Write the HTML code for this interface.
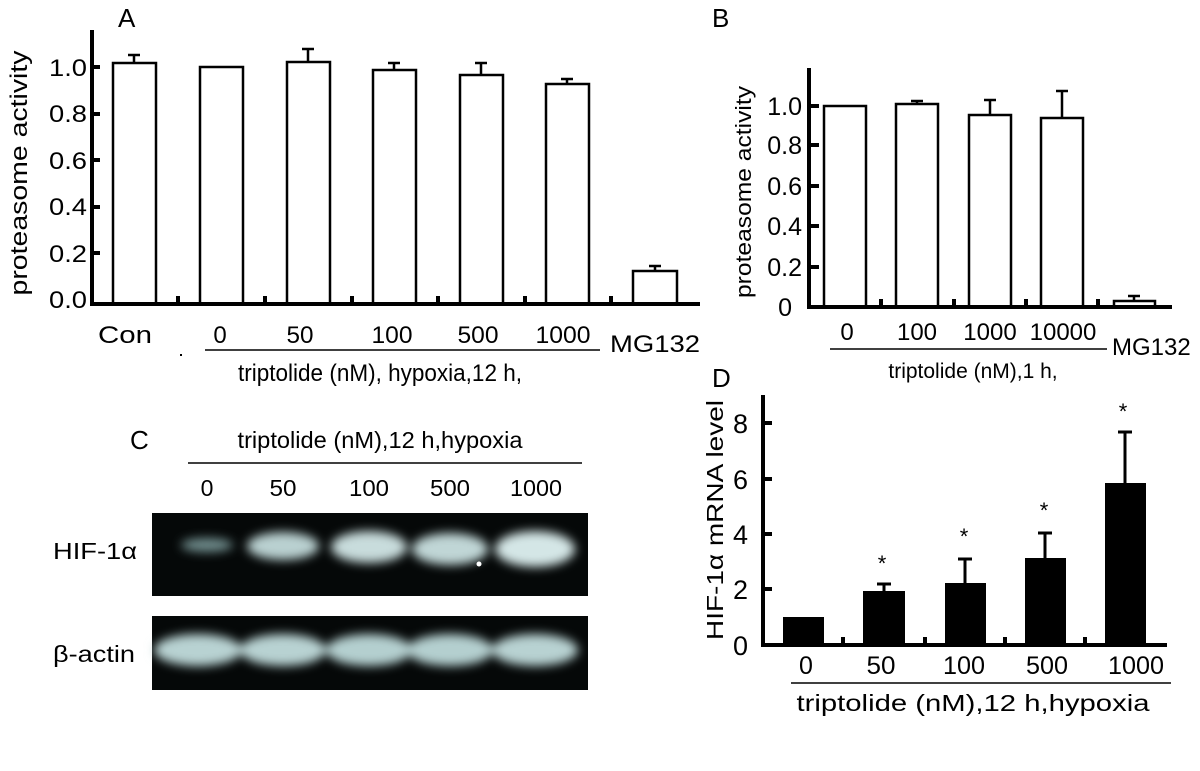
<!DOCTYPE html>
<html><head><meta charset="utf-8"><style>
html,body{margin:0;padding:0;background:#fff}
svg{display:block}
text{font-family:"Liberation Sans",sans-serif;fill:#000}
</style></head><body>
<svg width="1200" height="771" viewBox="0 0 1200 771" xmlns="http://www.w3.org/2000/svg">
<defs>
<filter id="bl" x="-30%" y="-60%" width="160%" height="220%"><feGaussianBlur stdDeviation="5"/></filter>
</defs>
<!-- Panel A -->
<text x="118" y="27" font-size="26">A</text>
<g stroke="#000" fill="none">
<line x1="92" y1="30" x2="92" y2="305" stroke-width="4"/>
<line x1="90" y1="304" x2="700" y2="304" stroke-width="4"/>
<g stroke-width="4">
<line x1="92" y1="67" x2="100" y2="67"/><line x1="92" y1="114" x2="100" y2="114"/>
<line x1="92" y1="160" x2="100" y2="160"/><line x1="92" y1="207" x2="100" y2="207"/>
<line x1="92" y1="253" x2="100" y2="253"/>
<line x1="178" y1="296" x2="178" y2="304"/><line x1="265" y1="296" x2="265" y2="304"/>
<line x1="352" y1="296" x2="352" y2="304"/><line x1="438" y1="296" x2="438" y2="304"/>
<line x1="525" y1="296" x2="525" y2="304"/><line x1="611" y1="296" x2="611" y2="304"/>
</g>
<g stroke-width="2.5">
<rect x="113" y="63" width="43" height="241"/>
<rect x="200" y="67" width="43" height="237"/>
<rect x="287" y="62" width="43" height="242"/>
<rect x="373" y="70" width="43" height="234"/>
<rect x="460" y="75" width="43" height="229"/>
<rect x="546" y="84" width="43" height="220"/>
<rect x="633" y="271" width="44" height="33"/>
<path d="M134 63V55M128 55H140M308 62V49M302 49H314M394 70V63M388 63H400M481 75V63M475 63H487M567 84V79M561 79H573M655 271V266M649 266H661"/>
</g>
</g>
<g font-size="24" text-anchor="end">
<text x="87" y="76" textLength="38" lengthAdjust="spacingAndGlyphs">1.0</text>
<text x="87" y="122" textLength="38" lengthAdjust="spacingAndGlyphs">0.8</text>
<text x="87" y="169" textLength="38" lengthAdjust="spacingAndGlyphs">0.6</text>
<text x="87" y="215" textLength="38" lengthAdjust="spacingAndGlyphs">0.4</text>
<text x="87" y="262" textLength="38" lengthAdjust="spacingAndGlyphs">0.2</text>
<text x="87" y="308" textLength="38" lengthAdjust="spacingAndGlyphs">0.0</text>
</g>
<text transform="translate(27,173) rotate(-90)" font-size="24" text-anchor="middle" textLength="245" lengthAdjust="spacingAndGlyphs">proteasome activity</text>
<g font-size="24" text-anchor="middle">
<text x="125" y="343" textLength="54" lengthAdjust="spacingAndGlyphs">Con</text>
<text x="220" y="343">0</text>
<text x="300" y="343" textLength="27" lengthAdjust="spacingAndGlyphs">50</text>
<text x="392" y="343" textLength="41" lengthAdjust="spacingAndGlyphs">100</text>
<text x="478" y="343" textLength="41" lengthAdjust="spacingAndGlyphs">500</text>
<text x="563" y="343" textLength="55" lengthAdjust="spacingAndGlyphs">1000</text>
<text x="380" y="381" textLength="284" lengthAdjust="spacingAndGlyphs">triptolide (nM), hypoxia,12 h,</text>
</g>
<text x="610" y="352" font-size="24" textLength="90" lengthAdjust="spacingAndGlyphs">MG132</text>
<line x1="205" y1="350" x2="600" y2="350" stroke="#000" stroke-width="1.5"/>
<rect x="180" y="354" width="2" height="2" fill="#000"/>

<!-- Panel B -->
<text x="712" y="27" font-size="26">B</text>
<g stroke="#000" fill="none">
<line x1="809" y1="68" x2="809" y2="309" stroke-width="4"/>
<line x1="807" y1="307" x2="1172" y2="307" stroke-width="4"/>
<g stroke-width="4">
<line x1="809" y1="106" x2="819" y2="106"/><line x1="809" y1="145" x2="819" y2="145"/>
<line x1="809" y1="186" x2="819" y2="186"/><line x1="809" y1="226" x2="819" y2="226"/>
<line x1="809" y1="267" x2="819" y2="267"/>
<line x1="881" y1="299" x2="881" y2="307"/><line x1="954" y1="299" x2="954" y2="307"/>
<line x1="1026" y1="299" x2="1026" y2="307"/><line x1="1098" y1="299" x2="1098" y2="307"/>
</g>
<g stroke-width="2.5">
<rect x="824" y="106" width="42" height="201"/>
<rect x="896" y="104" width="42" height="203"/>
<rect x="969" y="115" width="42" height="192"/>
<rect x="1041" y="118" width="42" height="189"/>
<rect x="1114" y="301" width="41" height="6"/>
<path d="M917 104V101M911 101H923M990 115V100M984 100H996M1062 118V91M1056 91H1068M1134 301V296M1128 296H1140"/>
</g>
</g>
<g font-size="25" text-anchor="end">
<text x="802" y="115">1.0</text><text x="802" y="154">0.8</text><text x="802" y="195">0.6</text>
<text x="802" y="235">0.4</text><text x="802" y="276">0.2</text><text x="792" y="316">0</text>
</g>
<text transform="translate(751,192) rotate(-90)" font-size="22" text-anchor="middle" textLength="212" lengthAdjust="spacingAndGlyphs">proteasome activity</text>
<g font-size="24" text-anchor="middle">
<text x="847" y="340">0</text><text x="917" y="340">100</text><text x="990" y="340">1000</text><text x="1063" y="340">10000</text>
<text x="973" y="378" font-size="21">triptolide (nM),1 h,</text>
</g>
<text x="1112" y="355" font-size="24">MG132</text>
<line x1="830" y1="349" x2="1107" y2="349" stroke="#000" stroke-width="1.5"/>

<!-- Panel C -->
<text x="130" y="449" font-size="26">C</text>
<text x="380" y="448" font-size="23" text-anchor="middle" textLength="285" lengthAdjust="spacingAndGlyphs">triptolide (nM),12 h,hypoxia</text>
<line x1="188" y1="463" x2="582" y2="463" stroke="#000" stroke-width="1.5"/>
<g font-size="23" text-anchor="middle">
<text x="207" y="496">0</text>
<text x="283" y="496" textLength="27" lengthAdjust="spacingAndGlyphs">50</text>
<text x="369" y="496" textLength="40" lengthAdjust="spacingAndGlyphs">100</text>
<text x="450" y="496" textLength="40" lengthAdjust="spacingAndGlyphs">500</text>
<text x="536" y="496" textLength="52" lengthAdjust="spacingAndGlyphs">1000</text>
</g>
<text x="53" y="559" font-size="23" textLength="84" lengthAdjust="spacingAndGlyphs">HIF-1α</text>
<text x="53" y="662" font-size="23" textLength="82" lengthAdjust="spacingAndGlyphs">β-actin</text>
<rect x="152" y="513" width="436" height="83" fill="#050808"/>
<rect x="152" y="616" width="436" height="74" fill="#050808"/>
<g filter="url(#bl)">
<ellipse cx="207" cy="545" rx="26" ry="7" fill="#6f8c8c"/>
<ellipse cx="283" cy="546" rx="36" ry="14" fill="#b9d0d0"/>
<ellipse cx="369" cy="547" rx="38" ry="16" fill="#c8dcdc"/>
<ellipse cx="450" cy="549" rx="38" ry="16" fill="#c0d6d6"/>
<ellipse cx="535" cy="549" rx="40" ry="18" fill="#d4e6e6"/>
<ellipse cx="198" cy="650" rx="44" ry="16" fill="#b8d2d2"/>
<ellipse cx="283" cy="650" rx="43" ry="16" fill="#b8d2d2"/>
<ellipse cx="369" cy="650" rx="43" ry="16" fill="#b4cfcf"/>
<ellipse cx="450" cy="650" rx="43" ry="16" fill="#b4cfcf"/>
<ellipse cx="535" cy="650" rx="43" ry="16" fill="#b8d2d2"/>
</g>
<circle cx="479" cy="564" r="2.5" fill="#fff"/>

<!-- Panel D -->
<text x="712" y="387" font-size="26">D</text>
<g stroke="#000" fill="none" stroke-width="4">
<line x1="763" y1="395" x2="763" y2="647"/>
<line x1="761" y1="645" x2="1167" y2="645"/>
<line x1="763" y1="423" x2="772" y2="423"/><line x1="763" y1="479" x2="772" y2="479"/>
<line x1="763" y1="534" x2="772" y2="534"/><line x1="763" y1="589" x2="772" y2="589"/>
<line x1="843" y1="637" x2="843" y2="645"/><line x1="925" y1="637" x2="925" y2="645"/>
<line x1="1005" y1="637" x2="1005" y2="645"/><line x1="1085" y1="637" x2="1085" y2="645"/>
</g>
<g fill="#000">
<rect x="783" y="617" width="41" height="28"/>
<rect x="863" y="591" width="42" height="54"/>
<rect x="945" y="583" width="41" height="62"/>
<rect x="1025" y="558" width="41" height="87"/>
<rect x="1105" y="483" width="41" height="162"/>
</g>
<path d="M884 591V584M877 584H891M965 583V559M958 559H972M1045 558V533M1038 533H1052M1125 483V432M1118 432H1132" stroke="#000" stroke-width="3" fill="none"/>
<g font-size="22" text-anchor="middle">
<text x="882" y="571">*</text><text x="964" y="544">*</text><text x="1044" y="518">*</text><text x="1123" y="419">*</text>
</g>
<g font-size="27" text-anchor="end">
<text x="748" y="433">8</text><text x="748" y="489">6</text><text x="748" y="544">4</text><text x="748" y="599">2</text><text x="748" y="655">0</text>
</g>
<text transform="translate(723,520) rotate(-90)" font-size="23" text-anchor="middle" textLength="240" lengthAdjust="spacingAndGlyphs">HIF-1α mRNA level</text>
<g font-size="25" text-anchor="middle">
<text x="806" y="674">0</text>
<text x="881" y="674" textLength="29" lengthAdjust="spacingAndGlyphs">50</text>
<text x="964" y="674" textLength="42" lengthAdjust="spacingAndGlyphs">100</text>
<text x="1047" y="674" textLength="42" lengthAdjust="spacingAndGlyphs">500</text>
<text x="1136" y="674" textLength="56" lengthAdjust="spacingAndGlyphs">1000</text>
<text x="973" y="711" font-size="23" textLength="353" lengthAdjust="spacingAndGlyphs">triptolide (nM),12 h,hypoxia</text>
</g>
<line x1="791" y1="683" x2="1171" y2="683" stroke="#000" stroke-width="1.5"/>
</svg>
</body></html>
